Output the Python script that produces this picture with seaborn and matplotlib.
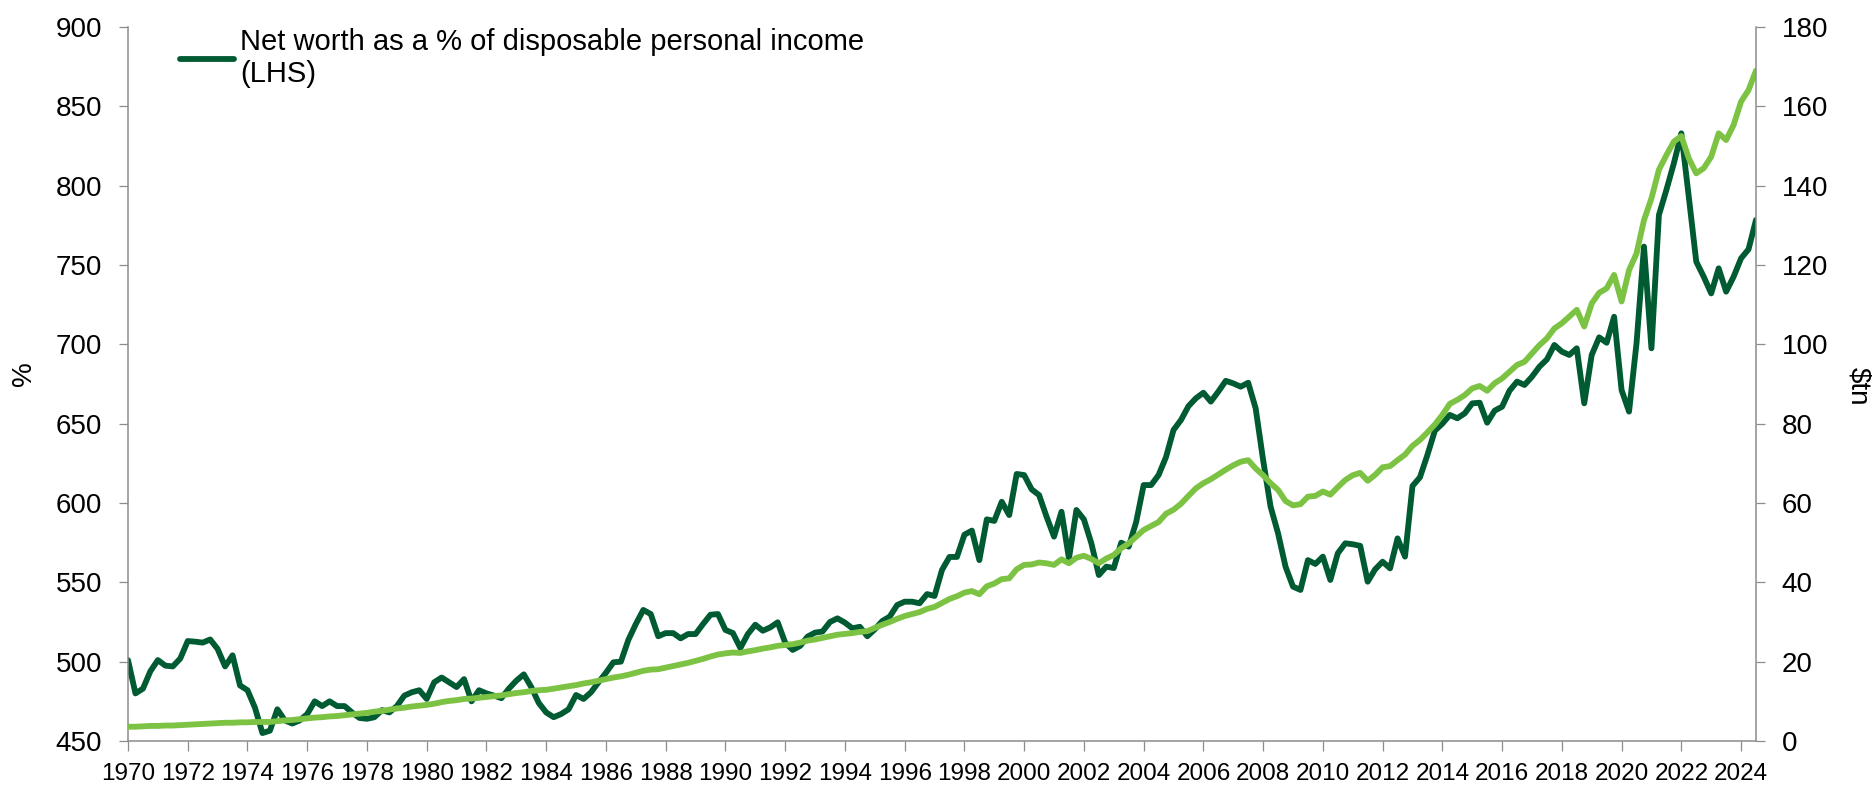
import numpy as np
import pandas as pd
import matplotlib
matplotlib.use("Agg")
import matplotlib.pyplot as plt
import seaborn as sns

# Quarterly data, 1970Q1 .. 2024Q3
start_year = 1970
net_worth_pct_dpi = [
    501, 480, 483, 494, 501, 497.5, 497, 502, 513, 512.6, 512, 514, 508, 497, 504, 485,
    482, 471, 455, 456.5, 470, 463, 461, 463, 467, 475, 472, 475, 472, 472, 468, 464.5,
    464, 465, 469.5, 468, 472, 478.6, 480.7, 482, 476.5, 487, 490, 487, 484, 489, 475, 482,
    480, 478.6, 477, 483, 488, 492, 484, 474, 468, 465, 467, 470, 479, 476.5, 480.7, 487,
    493, 499.6, 500, 513.7, 523.7, 532.6, 530, 516, 518, 518, 514.7, 517.4, 517.4, 523.7, 529.6, 530,
    520, 518, 508.6, 517.4, 523.3, 519.5, 521.6, 524.8, 512, 507.4, 509.9, 515.8, 518.3, 519, 525, 527.3,
    524.6, 521, 522, 516, 520.4, 525.6, 528.4, 535.7, 537.8, 537.8, 536.8, 542.6, 541.4, 557.8, 566, 566,
    580, 582.6, 564, 589.7, 588.7, 600.8, 592.4, 618.3, 617.6, 608.6, 605, 591.4, 578.8, 594.5, 565, 595.6,
    589.7, 574.6, 554.6, 559.9, 559, 575, 572.5, 588, 611.3, 611.3, 617.6, 629, 646, 652.3, 661, 666,
    669.5, 663.9, 670.2, 677, 675.4, 673.3, 675.8, 659.7, 627.1, 597.7, 580.9, 559.9, 547.3, 545.2, 564, 561.6,
    566.2, 551.5, 568.3, 574.6, 574, 573, 550.4, 558.2, 563, 558.8, 577.7, 566.2, 610.7, 616.2, 630.3, 645.6,
    650, 655.5, 653.4, 656.5, 662.8, 663.2, 650.6, 658.2, 660.7, 670.8, 676.5, 674.4, 679.6, 685.9, 690.5, 699.6,
    695.4, 693.3, 697.5, 662.8, 693.3, 704.4, 701, 717.4, 671.2, 657.6, 700.6, 761.6, 697.5, 781.5, 797.3, 814.1,
    833, 793, 752.1, 742.6, 732.1, 747.9, 733.2, 742.6, 754.2, 759.9, 778.4,
]
net_worth_tn = [
    3.6, 3.6, 3.7, 3.8, 3.8, 3.9, 3.9, 4.0, 4.1, 4.2, 4.3, 4.4, 4.5, 4.6, 4.6, 4.7,
    4.7, 4.8, 4.8, 4.8, 5.0, 5.2, 5.3, 5.5, 5.7, 5.9, 6.0, 6.2, 6.3, 6.5, 6.7, 6.9,
    7.1, 7.4, 7.6, 7.9, 8.2, 8.4, 8.7, 8.9, 9.1, 9.4, 9.8, 10.1, 10.3, 10.6, 10.7, 10.9,
    11.1, 11.3, 11.5, 11.8, 12.1, 12.3, 12.6, 12.8, 12.9, 13.2, 13.5, 13.8, 14.1, 14.5, 14.8, 15.2,
    15.6, 16.0, 16.3, 16.7, 17.2, 17.7, 18.0, 18.1, 18.5, 18.9, 19.3, 19.7, 20.2, 20.7, 21.3, 21.8,
    22.1, 22.3, 22.2, 22.6, 22.9, 23.3, 23.6, 24.0, 24.2, 24.4, 24.8, 25.3, 25.6, 26.0, 26.4, 26.8,
    27.0, 27.2, 27.5, 27.7, 28.5, 29.3, 30.0, 30.8, 31.5, 32.0, 32.5, 33.3, 33.8, 34.8, 35.8, 36.5,
    37.4, 37.8, 37.0, 39.0, 39.7, 40.8, 41.0, 43.3, 44.4, 44.5, 45.0, 44.8, 44.4, 45.8, 44.8, 46.2,
    46.7, 45.9, 44.8, 46.0, 46.9, 48.6, 49.8, 51.5, 53.2, 54.2, 55.2, 57.3, 58.3, 59.8, 61.8, 63.7,
    65.0, 66.0, 67.2, 68.4, 69.5, 70.4, 70.8, 68.7, 67.0, 65.0, 63.3, 60.5, 59.4, 59.7, 61.6, 61.8,
    62.9, 62.1, 64.0, 65.8, 67.0, 67.6, 65.6, 67.1, 69.0, 69.3, 70.8, 72.2, 74.4, 75.9, 77.8, 79.8,
    82.2, 85.0, 86.0, 87.2, 88.9, 89.5, 88.3, 90.2, 91.4, 93.1, 94.8, 95.6, 97.7, 99.8, 101.5, 104.0,
    105.3, 107.0, 108.7, 104.5, 110.3, 113.0, 114.1, 117.5, 110.8, 118.7, 122.9, 131.3, 136.8, 144.0, 147.7, 151.1,
    152.5, 146.9, 143.1, 144.4, 147.3, 153.2, 151.5, 155.3, 161.2, 164.1, 169.0,
]
tick_years = list(range(1970, 2025, 2))
legend_label = "Net worth as a % of disposable personal income\n(LHS)"
left_ticks = [450, 500, 550, 600, 650, 700, 750, 800, 850, 900]
right_ticks = [0, 20, 40, 60, 80, 100, 120, 140, 160, 180]

n = len(net_worth_pct_dpi)
df = pd.DataFrame({
    "t": start_year + np.arange(n) / 4.0,
    "pct": net_worth_pct_dpi,
    "tn": net_worth_tn,
})

sns.set_style("white")
plt.rcParams["font.family"] = ["Liberation Sans", "DejaVu Sans"]
plt.rcParams["text.color"] = "black"

DARK = "#005a32"
LIGHT = "#7cc243"
GREY = "#8c8c8c"
LW = 4.2

W, H = 1876, 789
fig = plt.figure(figsize=(W / 100, H / 100), dpi=100)
L, R, T, B = 128, 1756, 27, 741
ax = fig.add_axes([L / W, (H - B) / H, (R - L) / W, (B - T) / H])
ax2 = ax.twinx()

sns.lineplot(data=df, x="t", y="pct", ax=ax, color=DARK, linewidth=LW,
             label=legend_label, solid_joinstyle="round", solid_capstyle="round")
sns.lineplot(data=df, x="t", y="tn", ax=ax2, color=LIGHT, linewidth=LW,
             legend=False, solid_joinstyle="round", solid_capstyle="round")

ax.set_xlim(1970, df["t"].iloc[-1])
ax.set_ylim(450, 900)
ax2.set_ylim(0, 180)
ax.set_xticks(tick_years)
ax.set_xticklabels([str(y) for y in tick_years])
ax.set_yticks(left_ticks)
ax2.set_yticks(right_ticks)
ax.set_xlabel("")
ax.set_ylabel("")
ax2.set_ylabel("")

for a in (ax, ax2):
    for s in a.spines.values():
        s.set_color(GREY)
        s.set_linewidth(1.1)
    a.spines["top"].set_visible(False)
    a.grid(False)
ax.spines["right"].set_visible(False)
ax2.spines["left"].set_visible(False)
ax2.spines["bottom"].set_visible(False)

ax.tick_params(axis="y", direction="out", length=6.5, width=0.9, color=GREY,
               labelsize=20, pad=12, left=True, labelcolor="black")
ax.tick_params(axis="x", direction="out", length=7, width=0.9, color=GREY,
               labelsize=17.5, pad=9, bottom=True, labelcolor="black")
ax2.tick_params(axis="y", direction="out", length=6.5, width=0.9, color=GREY,
                labelsize=20, pad=12, right=True, labelcolor="black")

fig.text(24 / W, 1 - 374 / H, "%", rotation=90, ha="center", va="center",
         fontsize=20, color="black")
fig.text(1858 / W, 1 - 386 / H, "$tn", rotation=270, ha="center", va="center",
         fontsize=20, color="black")

leg = ax.legend(loc="upper left", bbox_to_anchor=((180 - L) / (R - L), 0.998),
                frameon=False, fontsize=21, handlelength=1.85, handletextpad=0.2,
                borderpad=0, borderaxespad=0)
for line in leg.get_lines():
    line.set_linewidth(LW)
for t in leg.get_texts():
    t.set_linespacing(1.15)
    t.set_color("black")

fig.savefig("out.png", dpi=100, facecolor="white")
